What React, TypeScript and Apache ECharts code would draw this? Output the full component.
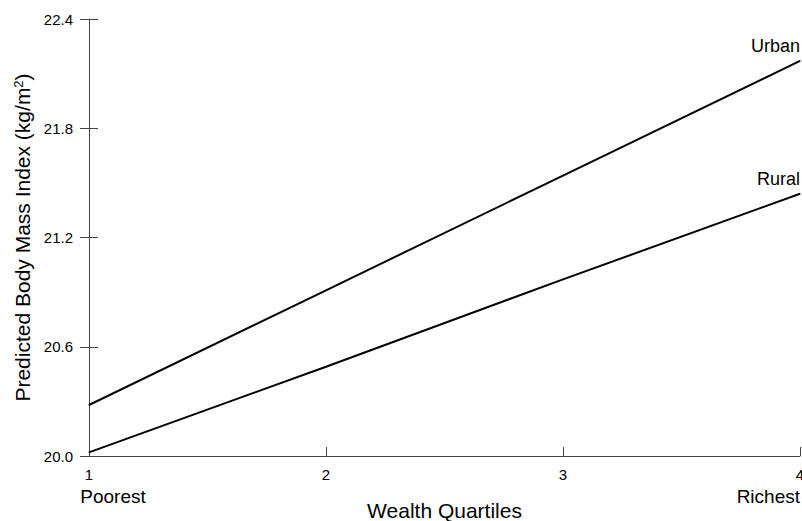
import React, { useEffect, useRef } from "react";
import * as echarts from "echarts";

const QUARTILES = [1, 2, 3, 4];
const URBAN = [20.28, 20.91, 21.54, 22.17];
const RURAL = [20.02, 20.49, 20.97, 21.44];
const Y_BASE = 20.0;
const Y_SPAN = 2.4;
const Y_STEP = 0.6;
const X_END_LABELS: Record<number, string> = { 1: "{p|Poorest}", 4: "Richest" };

const FONT = "'Liberation Sans', Arial, sans-serif";

export default function App() {
  const ref = useRef<HTMLDivElement>(null);
  useEffect(() => {
    document.body.style.margin = "0";
    document.body.style.overflow = "hidden";
    if (!ref.current) return;
    const chart = echarts.init(ref.current, undefined, { renderer: "svg", width: 802, height: 521 });
    const mk = (name: string, vals: number[]) => ({
      type: "line",
      name,
      xAxisIndex: 0,
      yAxisIndex: 0,
      symbol: "circle",
      symbolSize: 1,
      showSymbol: true,
      itemStyle: { color: "#000" },
      lineStyle: { color: "#000", width: 2 },
      data: QUARTILES.map((q, i) => {
        const item: any = { value: [q, +(vals[i] - Y_BASE).toFixed(4)] };
        if (i === QUARTILES.length - 1) {
          item.label = {
            show: true,
            formatter: name,
            position: "top",
            align: "right",
            distance: 5,
            color: "#000",
            fontSize: 18,
            fontFamily: FONT,
          };
        }
        return item;
      }),
    });
    chart.setOption({
      animation: false,
      backgroundColor: "#fff",
      textStyle: { fontFamily: FONT },
      grid: { left: 89, right: 2, top: 19, bottom: 65, containLabel: false, outerBoundsMode: "none" },
      xAxis: [
        {
          type: "value",
          min: 1,
          max: 4,
          interval: 1,
          name: "Wealth Quartiles",
          nameLocation: "middle",
          nameGap: 44,
          nameTextStyle: { color: "#000", fontSize: 21, fontFamily: FONT },
          axisLine: { show: true, lineStyle: { color: "#444", width: 1 } },
          axisTick: { show: true, inside: true, length: 9, lineStyle: { color: "#444" } },
          axisLabel: { color: "#000", fontSize: 15, margin: 11, fontFamily: FONT, showMinLabel: true, showMaxLabel: true },
          splitLine: { show: false },
        },
        {
          type: "value",
          min: 1,
          max: 4,
          interval: 1,
          position: "bottom",
          axisLine: { show: false },
          axisTick: { show: false },
          axisLabel: {
            color: "#000",
            fontSize: 19,
            margin: 31,
            fontFamily: FONT,
            alignMaxLabel: "right",
            showMinLabel: true,
            showMaxLabel: true,
            formatter: (v: number) => X_END_LABELS[v] || "",
            rich: { p: { fontSize: 19, color: "#000", fontFamily: FONT, padding: [0, 0, 0, 48] } },
          },
          splitLine: { show: false },
        },
      ],
      yAxis: [
        {
          type: "value",
          min: 0,
          max: Y_SPAN,
          interval: Y_STEP,
          name: "Predicted Body Mass Index (kg/m{sup|2})",
          nameLocation: "middle",
          nameGap: 53,
          nameTextStyle: {
            color: "#000",
            fontSize: 21,
            fontFamily: FONT,
            rich: { sup: { fontSize: 13, verticalAlign: "top", color: "#000", fontFamily: FONT } },
          },
          axisLine: { show: true, lineStyle: { color: "#444", width: 1 } },
          axisTick: { show: true, inside: false, length: 9, lineStyle: { color: "#444" } },
          axisLabel: {
            color: "#000",
            fontSize: 15,
            margin: 16,
            fontFamily: FONT,
            formatter: (v: number) => (v + Y_BASE).toFixed(1),
          },
          splitLine: { show: false },
        },
        {
          type: "value",
          min: 0,
          max: Y_SPAN,
          interval: Y_STEP,
          position: "left",
          axisLine: { show: false },
          axisTick: { show: true, inside: true, length: 9, lineStyle: { color: "#444" } },
          axisLabel: { show: false },
          splitLine: { show: false },
        },
      ],
      series: [mk("Urban", URBAN), mk("Rural", RURAL)],
    });
    return () => chart.dispose();
  }, []);
  return <div ref={ref} style={{ position: "fixed", left: 0, top: 0, width: 802, height: 521 }} />;
}
